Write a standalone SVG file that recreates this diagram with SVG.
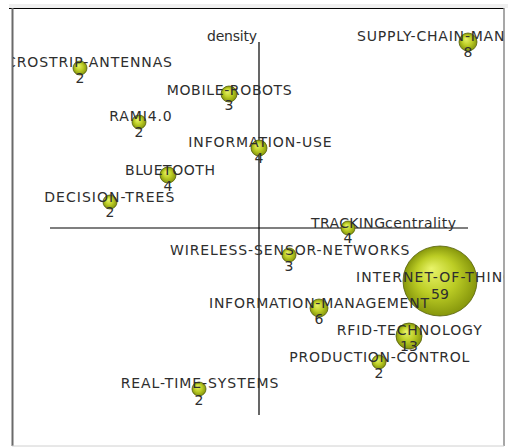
<svg xmlns="http://www.w3.org/2000/svg" width="508" height="447" viewBox="0 0 508 447">
<defs>
<radialGradient id="ball" cx="50%" cy="50%" r="50%" fx="38%" fy="32%">
<stop offset="0" stop-color="#e9f46a"/>
<stop offset="0.55" stop-color="#bccd25"/>
<stop offset="1" stop-color="#86960c"/>
</radialGradient>
<clipPath id="frame"><rect x="13" y="9" width="491" height="437"/></clipPath>
<style>
.b{fill:url(#ball);stroke:#56600a;stroke-width:0.8}
.t{font-family:"DejaVu Sans","Liberation Sans",sans-serif;font-size:14px;fill:#2e2e2e}
.n{font-family:"DejaVu Sans","Liberation Sans",sans-serif;font-size:14px;fill:#2e2e2e;text-anchor:middle}
.ax{stroke:#000;stroke-width:1.2;fill:none}
</style>
</defs>
<rect x="0" y="0" width="508" height="447" fill="#fff"/>
<rect x="9" y="4" width="499" height="4" fill="#efefef"/>
<g id="frame-lines">
<line x1="9" y1="8.5" x2="504" y2="8.5" stroke="#000" stroke-width="1"/>
<line x1="12.5" y1="8" x2="12.5" y2="446" stroke="#6a6a6a" stroke-width="2"/>
<line x1="504" y1="8" x2="504" y2="446" stroke="#8a8a8a" stroke-width="1.5"/>
<line x1="12" y1="446" x2="504" y2="446" stroke="#d0d0d0" stroke-width="1"/>
</g>
<g id="axes">
<line class="ax" x1="259" y1="42" x2="259" y2="415"/>
<line class="ax" x1="50" y1="228" x2="468" y2="228"/>
<text class="t" x="207" y="41" textLength="50" lengthAdjust="spacing">density</text>
<text class="t" x="385" y="228" textLength="71" lengthAdjust="spacing">centrality</text>
</g>
<g clip-path="url(#frame)">
<g id="n-microstrip-antennas">
<circle class="b" cx="80" cy="68" r="7"/>
<text class="t" x="-12" y="67" textLength="184" lengthAdjust="spacing">MICROSTRIP-ANTENNAS</text>
<text class="n" x="80" y="83">2</text>
</g>
<g id="n-mobile-robots">
<circle class="b" cx="229" cy="94" r="8"/>
<text class="t" x="166.7" y="95" textLength="125" lengthAdjust="spacing">MOBILE-ROBOTS</text>
<text class="n" x="229" y="110">3</text>
</g>
<g id="n-rami40">
<circle class="b" cx="139" cy="122" r="7"/>
<text class="t" x="109.3" y="121" textLength="62.4" lengthAdjust="spacing">RAMI4.0</text>
<text class="n" x="139" y="137">2</text>
</g>
<g id="n-information-use">
<circle class="b" cx="259" cy="148" r="8"/>
<text class="t" x="188.3" y="147" textLength="143.4" lengthAdjust="spacing">INFORMATION-USE</text>
<text class="n" x="259" y="163">4</text>
</g>
<g id="n-bluetooth">
<circle class="b" cx="168" cy="175" r="8"/>
<text class="t" x="125" y="175" textLength="90" lengthAdjust="spacing">BLUETOOTH</text>
<text class="n" x="168" y="191">4</text>
</g>
<g id="n-decision-trees">
<circle class="b" cx="110" cy="202" r="7"/>
<text class="t" x="44.3" y="202" textLength="130" lengthAdjust="spacing">DECISION-TREES</text>
<text class="n" x="110" y="217">2</text>
</g>
<g id="n-supply-chain-management">
<circle class="b" cx="468" cy="42" r="9"/>
<text class="t" x="357" y="41" textLength="222" lengthAdjust="spacing">SUPPLY-CHAIN-MANAGEMENT</text>
<text class="n" x="468" y="57">8</text>
</g>
<g id="n-tracking">
<circle class="b" cx="348" cy="228" r="7"/>
<text class="t" x="311" y="228" textLength="74" lengthAdjust="spacing">TRACKING</text>
<text class="n" x="348" y="243">4</text>
</g>
<g id="n-wireless-sensor-networks">
<circle class="b" cx="289" cy="255" r="7"/>
<text class="t" x="170" y="255" textLength="239.3" lengthAdjust="spacing">WIRELESS-SENSOR-NETWORKS</text>
<text class="n" x="289" y="271">3</text>
</g>
<g id="n-internet-of-things">
<ellipse class="b" cx="440" cy="281" rx="37" ry="35"/>
<text class="t" x="356" y="282" textLength="168" lengthAdjust="spacing">INTERNET-OF-THINGS</text>
<text class="n" x="440" y="299">59</text>
</g>
<g id="n-information-management">
<circle class="b" cx="319" cy="308" r="9"/>
<text class="t" x="209" y="308" textLength="220" lengthAdjust="spacing">INFORMATION-MANAGEMENT</text>
<text class="n" x="319" y="324">6</text>
</g>
<g id="n-rfid-technology">
<circle class="b" cx="409" cy="336" r="13"/>
<text class="t" x="336.7" y="335" textLength="145" lengthAdjust="spacing">RFID-TECHNOLOGY</text>
<text class="n" x="409" y="351">13</text>
</g>
<g id="n-production-control">
<circle class="b" cx="379" cy="362" r="7"/>
<text class="t" x="289.3" y="362" textLength="180" lengthAdjust="spacing">PRODUCTION-CONTROL</text>
<text class="n" x="379" y="378">2</text>
</g>
<g id="n-real-time-systems">
<circle class="b" cx="199" cy="389" r="7"/>
<text class="t" x="120.7" y="388" textLength="157.6" lengthAdjust="spacing">REAL-TIME-SYSTEMS</text>
<text class="n" x="199" y="405">2</text>
</g>
</g>
</svg>
